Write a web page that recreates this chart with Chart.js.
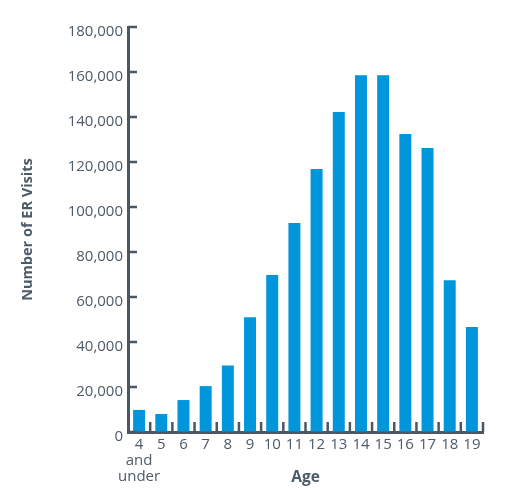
<!DOCTYPE html>
<html>
<head>
<meta charset="utf-8">
<script src="https://cdn.jsdelivr.net/npm/chart.js@4"></script>
<style>
  html, body { margin: 0; padding: 0; background: #ffffff; }
  #wrap { width: 516px; height: 488px; position: relative; }
</style>
</head>
<body>
<div id="wrap"><canvas id="c"></canvas></div>
<script>
const ageLabels = [["4", "and", "under"], "5", "6", "7", "8", "9", "10", "11", "12", "13", "14", "15", "16", "17", "18", "19"];
const erVisits = [9800, 8000, 14200, 20400, 29600, 51000, 69800, 92900, 116900, 142200, 158600, 158600, 132400, 126200, 67500, 46700];
const yMin = 0;
const yMax = 180000;
const yStep = 20000;

const axisColor = '#4b5863';
const textColor = '#4d5a68';
const barColor = '#0096db';

const innerTicks = {
  id: 'innerTicks',
  afterDraw(chart) {
    const ctx = chart.ctx;
    const xs = chart.scales.x;
    const ys = chart.scales.y;
    const area = chart.chartArea;
    ctx.save();
    ctx.strokeStyle = axisColor;
    ctx.lineWidth = 2.5;
    ctx.beginPath();
    const n = xs.ticks.length;
    const step = (xs.right - xs.left) / n;
    for (let i = 1; i <= n; i++) {
      const x = xs.left + i * step;
      ctx.moveTo(x, area.bottom);
      ctx.lineTo(x, area.bottom - 10);
    }
    ys.ticks.forEach((t, i) => {
      const y = ys.getPixelForTick(i);
      ctx.moveTo(area.left, y);
      ctx.lineTo(area.left + 9, y);
    });
    ctx.stroke();
    ctx.restore();
  }
};

new Chart(document.getElementById('c'), {
  type: 'bar',
  data: {
    labels: ageLabels,
    datasets: [{
      data: erVisits,
      backgroundColor: barColor,
      borderWidth: 0,
      barPercentage: 0.54,
      categoryPercentage: 1.0
    }]
  },
  options: {
    responsive: true,
    maintainAspectRatio: false,
    animation: false,
    layout: { padding: { top: 27, right: 33, bottom: 0, left: 0 } },
    plugins: { legend: { display: false }, tooltip: { enabled: false } },
    scales: {
      x: {
        grid: { display: true, drawOnChartArea: false, drawTicks: false },
        border: { display: true, color: axisColor, width: 3 },
        ticks: {
          color: textColor,
          padding: 5,
          maxRotation: 0,
          autoSkip: false,
          font: { family: 'Open Sans', size: 15, lineHeight: '16px' }
        },
        title: {
          display: true,
          text: 'Age',
          color: textColor,
          font: { family: 'Open Sans', size: 15.5, weight: 'bold' },
          padding: { top: 0, bottom: 1 }
        },
        afterFit(s) { s.height = 56; }
      },
      y: {
        min: yMin,
        max: yMax,
        grid: { display: true, drawOnChartArea: false, drawTicks: false },
        border: { display: true, color: axisColor, width: 3 },
        ticks: {
          stepSize: yStep,
          color: textColor,
          padding: 5,
          labelOffset: 5,
          font: { family: 'Open Sans', size: 15 },
          callback: v => v.toLocaleString('en-US')
        },
        title: {
          display: true,
          text: 'Number of ER Visits',
          color: textColor,
          font: { family: 'Open Sans', size: 14.5, weight: 'bold' },
          padding: { top: 19, bottom: 0 }
        },
        afterFit(s) { s.width = 128; }
      }
    }
  },
  plugins: [innerTicks]
});
</script>
</body>
</html>
